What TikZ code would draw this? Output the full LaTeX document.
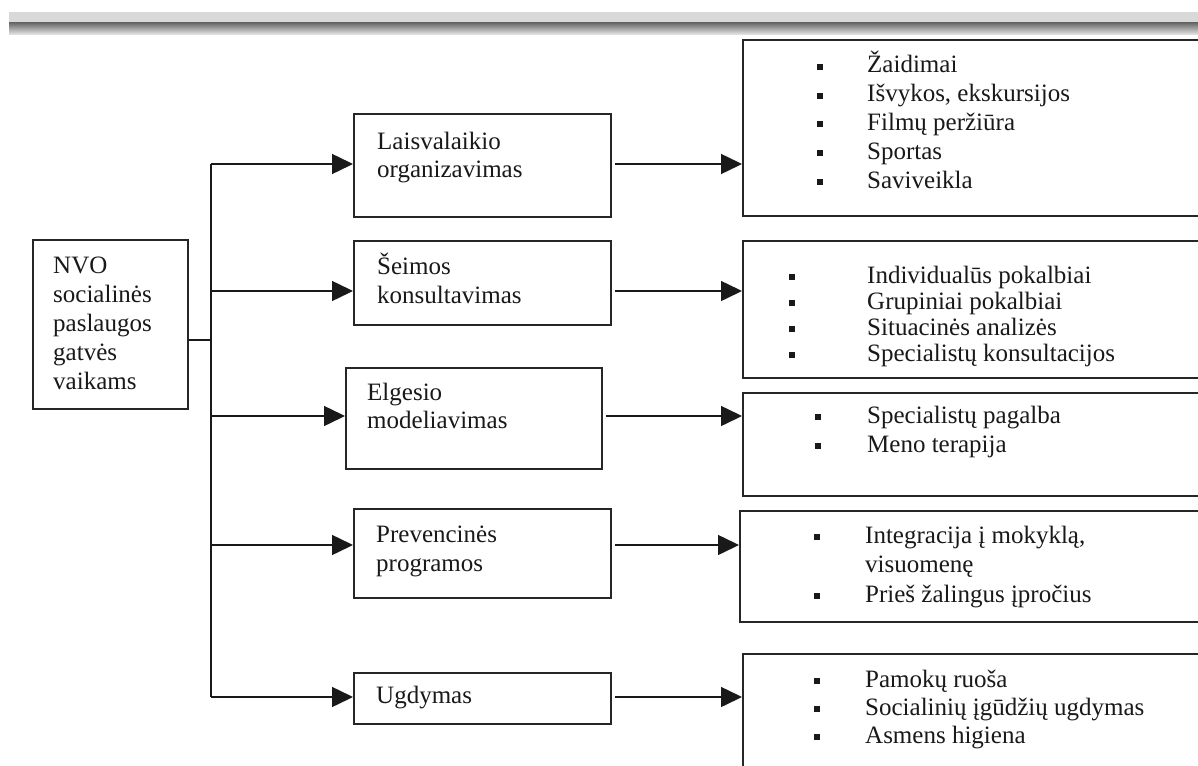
\documentclass[tikz,border=0pt]{standalone}
\usepackage{fontspec}
\setmainfont{Liberation Serif}
\usetikzlibrary{arrows.meta}
\newcommand\sqbul{\rule[3pt]{6pt}{6pt}}
\newcommand\bli[2]{\makebox[#1][l]{\sqbul}#2}
\tikzset{
 box/.style={draw=black!85, line width=1.8pt, inner sep=0pt, anchor=north west},
 txt/.style={anchor=base west, inner sep=0pt, font=\fontsize{25}{29}\selectfont, text=black!90},
 arr/.style={line width=1.5pt, draw=black!90, -{Triangle[length=21pt,width=20pt]}},
 ln/.style={line width=1.5pt, draw=black!90},
}
\begin{document}
\begin{tikzpicture}[x=1pt,y=-1pt]
\useasboundingbox (0,0) rectangle (1198,765);
\clip (0,0) rectangle (1198,765);
\fill[white] (0,0) rectangle (1198,765);
% top bar
\fill[black!15] (9,12) rectangle (1200,23);
\shade[top color=black!58, bottom color=black!8] (9,23) rectangle (1200,35);

% boxes
\node[box, minimum width=155pt, minimum height=169pt] (nvo) at (32,239) {};
\node[box, minimum width=257pt, minimum height=103pt] (m1) at (353,113) {};
\node[box, minimum width=257pt, minimum height=84pt] (m2) at (353,240) {};
\node[box, minimum width=256pt, minimum height=101pt] (m3) at (345,367) {};
\node[box, minimum width=257pt, minimum height=89pt] (m4) at (353,508) {};
\node[box, minimum width=257pt, minimum height=51pt] (m5) at (353,672) {};
\node[box, minimum width=500pt, minimum height=176pt] (r1) at (742,39) {};
\node[box, minimum width=500pt, minimum height=137pt] (r2) at (742,240) {};
\node[box, minimum width=500pt, minimum height=103pt] (r3) at (742,392) {};
\node[box, minimum width=503pt, minimum height=111pt] (r4) at (739,510) {};
\node[box, minimum width=500pt, minimum height=150pt] (r5) at (742,653) {};

% left box text
\node[txt] (n1) at (53,273) {NVO};
\node[txt] (n2) at (53,302) {socialinės};
\node[txt] (n3) at (53,331) {paslaugos};
\node[txt] (n4) at (53,360) {gatvės};
\node[txt] (n5) at (53,389) {vaikams};

% middle texts
\node[txt] (m1a) at (377,149) {Laisvalaikio};
\node[txt] (m1b) at (377,177) {organizavimas};
\node[txt] (m2a) at (377,274) {Šeimos};
\node[txt] (m2b) at (377,303) {konsultavimas};
\node[txt] (m3a) at (367,400) {Elgesio};
\node[txt] (m3b) at (367,428) {modeliavimas};
\node[txt] (m4a) at (376,542) {Prevencinės};
\node[txt] (m4b) at (376,571) {programos};
\node[txt] (m5a) at (376,703) {Ugdymas};

% right lists
\node[txt] (r1a) at (817,73) {\bli{50pt}{Žaidimai}};
\node[txt] (r1b) at (817,102) {\bli{50pt}{Išvykos, ekskursijos}};
\node[txt] (r1c) at (817,130) {\bli{50pt}{Filmų peržiūra}};
\node[txt] (r1d) at (817,159) {\bli{50pt}{Sportas}};
\node[txt] (r1e) at (817,188) {\bli{50pt}{Saviveikla}};

\node[txt] (r2a) at (789,283) {\bli{78pt}{Individualūs pokalbiai}};
\node[txt] (r2b) at (789,309) {\bli{78pt}{Grupiniai pokalbiai}};
\node[txt] (r2c) at (789,335) {\bli{78pt}{Situacinės analizės}};
\node[txt] (r2d) at (789,361) {\bli{78pt}{Specialistų konsultacijos}};

\node[txt] (r3a) at (815,423) {\bli{52pt}{Specialistų pagalba}};
\node[txt] (r3b) at (815,452) {\bli{52pt}{Meno terapija}};

\node[txt] (r4a) at (814,543) {\bli{51pt}{Integracija į mokyklą,}};
\node[txt] (r4b) at (865,572) {visuomenę};
\node[txt] (r4c) at (814,602) {\bli{51pt}{Prieš žalingus įpročius}};

\node[txt] (r5a) at (814,687) {\bli{51pt}{Pamokų ruoša}};
\node[txt] (r5b) at (814,715) {\bli{51pt}{Socialinių įgūdžių ugdymas}};
\node[txt] (r5c) at (814,743) {\bli{51pt}{Asmens higiena}};

% connectors
\coordinate (jn) at (211,340);
\coordinate (j1) at (211,164);
\coordinate (j2) at (211,291);
\coordinate (j3) at (211,416);
\coordinate (j4) at (211,545);
\coordinate (j5) at (211,697);
\draw[ln] (jn -| nvo.east) -- (jn);
\draw[ln] (j1) -- (j5);
\draw[arr] (j1) -- (j1 -| m1.west);
\draw[arr] (j2) -- (j2 -| m2.west);
\draw[arr] (j3) -- (j3 -| m3.west);
\draw[arr] (j4) -- (j4 -| m4.west);
\draw[arr] (j5) -- (j5 -| m5.west);
\draw[arr, shorten <=3pt] (j1 -| m1.east) -- (j1 -| r1.west);
\draw[arr, shorten <=3pt] (j2 -| m2.east) -- (j2 -| r2.west);
\draw[arr, shorten <=3pt] (j3 -| m3.east) -- (j3 -| r3.west);
\draw[arr, shorten <=3pt] (j4 -| m4.east) -- (j4 -| r4.west);
\draw[arr, shorten <=3pt] (j5 -| m5.east) -- (j5 -| r5.west);
\end{tikzpicture}
\end{document}
